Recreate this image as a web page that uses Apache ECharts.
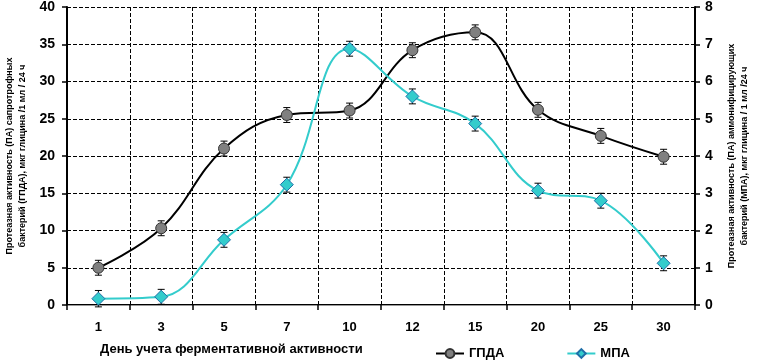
<!DOCTYPE html>
<html>
<head>
<meta charset="utf-8">
<script src="https://cdn.jsdelivr.net/npm/echarts@6/dist/echarts.min.js"></script>
<style>html,body{margin:0;padding:0;background:#fff;}#c{width:760px;height:360px;}</style>
</head>
<body>
<div id="c"></div>
<script>
const days = ['1','3','5','7','10','12','15','20','25','30'];
const gpda = [5.0, 10.3, 21.0, 25.5, 26.1, 34.2, 36.6, 26.2, 22.7, 19.9];
const gpdaErr = [1.0, 1.0, 1.0, 1.0, 1.0, 1.0, 1.0, 1.0, 1.0, 1.0];
const mpa = [0.17, 0.22, 1.75, 3.23, 6.88, 5.6, 4.87, 3.07, 2.8, 1.12];
const mpaErr = [0.22, 0.2, 0.2, 0.2, 0.2, 0.2, 0.2, 0.2, 0.2, 0.2];
const leftTicks = {min: 0, max: 40, interval: 5};
const rightTicks = {min: 0, max: 8, interval: 1};
const leftName = 'Протеазная активность (ПА) сапротрофных\nбактерий (ГПДА), мкг глицина /1 мл / 24 ч';
const rightName = 'Протеазная активность (ПА) аммонифицирующих\nбактерий (МПА), мкг глицина / 1 мл /24 ч';
const xName = 'День учета ферментативной активности';

const FONT = '"Liberation Sans", Arial, sans-serif';

function errRender(params, api) {
  const x = api.value(0), y = api.value(1), e = api.value(2);
  const top = api.coord([x, y + e]);
  const bot = api.coord([x, y - e]);
  const cw = 3.5;
  const st = {stroke: '#000', lineWidth: 1};
  return {type: 'group', children: [
    {type: 'line', shape: {x1: top[0], y1: top[1], x2: bot[0], y2: bot[1]}, style: st},
    {type: 'line', shape: {x1: top[0]-cw, y1: top[1], x2: top[0]+cw, y2: top[1]}, style: st},
    {type: 'line', shape: {x1: bot[0]-cw, y1: bot[1], x2: bot[0]+cw, y2: bot[1]}, style: st}
  ]};
}

const chart = echarts.init(document.getElementById('c'), null, {renderer: 'canvas'});
chart.setOption({
  animation: false,
  backgroundColor: '#fff',
  textStyle: {fontFamily: FONT},
  title: {
    text: xName, left: 95, top: 338,
    textStyle: {fontFamily: FONT, fontWeight: 'bold', fontSize: 13, color: '#000'}
  },
  grid: {left: 67, right: 65, top: 7, bottom: 55, outerBoundsMode: 'none'},
  legend: {
    left: 430, top: 342, itemGap: 62, itemWidth: 28, itemHeight: 11,
    textStyle: {fontFamily: FONT, fontWeight: 'bold', fontSize: 13, color: '#000'},
    data: [{name: 'ГПДА'}, {name: 'МПА'}]
  },
  xAxis: [{
    type: 'category', data: days, boundaryGap: true, position: 'bottom',
    axisLine: {lineStyle: {color: '#000', width: 2}},
    axisTick: {show: true, length: 5, lineStyle: {color: '#000', width: 1.5}},
    axisLabel: {color: '#000', fontWeight: 'bold', fontSize: 13, fontFamily: FONT, margin: 16},
    splitLine: {show: true, lineStyle: {color: '#000', type: 'dashed', width: 1}}
  }, {
    type: 'category', data: days, boundaryGap: true, position: 'top',
    axisLine: {show: true, lineStyle: {color: '#999', width: 1}},
    axisTick: {show: false}, axisLabel: {show: false}, splitLine: {show: false}
  }],
  yAxis: [
    {
      type: 'value', position: 'left', min: leftTicks.min, max: leftTicks.max, interval: leftTicks.interval,
      axisLine: {show: true, lineStyle: {color: '#000', width: 2}},
      axisTick: {show: true, length: 5, lineStyle: {color: '#000', width: 1.5}},
      axisLabel: {color: '#000', fontWeight: 'bold', fontSize: 14, fontFamily: FONT, margin: 12},
      splitLine: {show: true, lineStyle: {color: '#000', type: 'dashed', width: 1}},
      name: leftName, nameLocation: 'middle', nameRotate: 90, nameGap: 38,
      nameTextStyle: {color: '#000', fontWeight: 'bold', fontSize: 9, fontFamily: FONT, lineHeight: 13}
    },
    {
      type: 'value', position: 'right', min: rightTicks.min, max: rightTicks.max, interval: rightTicks.interval,
      axisLine: {show: true, lineStyle: {color: '#000', width: 2}},
      axisTick: {show: true, length: 5, lineStyle: {color: '#000', width: 1.5}},
      axisLabel: {color: '#000', fontWeight: 'bold', fontSize: 14, fontFamily: FONT, margin: 10},
      splitLine: {show: false},
      name: rightName, nameLocation: 'middle', nameRotate: 90, nameGap: 30,
      nameTextStyle: {color: '#000', fontWeight: 'bold', fontSize: 9, fontFamily: FONT, lineHeight: 13}
    }
  ],
  series: [
    {
      type: 'custom', name: 'errG', yAxisIndex: 0, z: 1, renderItem: errRender,
      data: days.map((d, i) => [i, gpda[i], gpdaErr[i]]), silent: true, encode: {x: 0, y: 1}
    },
    {
      type: 'custom', name: 'errM', yAxisIndex: 1, z: 1, renderItem: errRender,
      data: days.map((d, i) => [i, mpa[i], mpaErr[i]]), silent: true, encode: {x: 0, y: 1}
    },
    {
      name: 'ГПДА', type: 'line', yAxisIndex: 0, data: gpda, smooth: 0.4, z: 3,
      lineStyle: {color: '#000', width: 2},
      symbol: 'circle', symbolSize: 11,
      itemStyle: {color: '#808080', borderColor: '#333', borderWidth: 1}
    },
    {
      name: 'МПА', type: 'line', yAxisIndex: 1, data: mpa, smooth: 0.4, z: 4,
      lineStyle: {color: '#33CCCC', width: 2},
      symbol: 'diamond', symbolSize: 13,
      itemStyle: {color: '#33CCCC', borderColor: '#1f6fa8', borderWidth: 1}
    }
  ]
});
</script>
</body>
</html>
